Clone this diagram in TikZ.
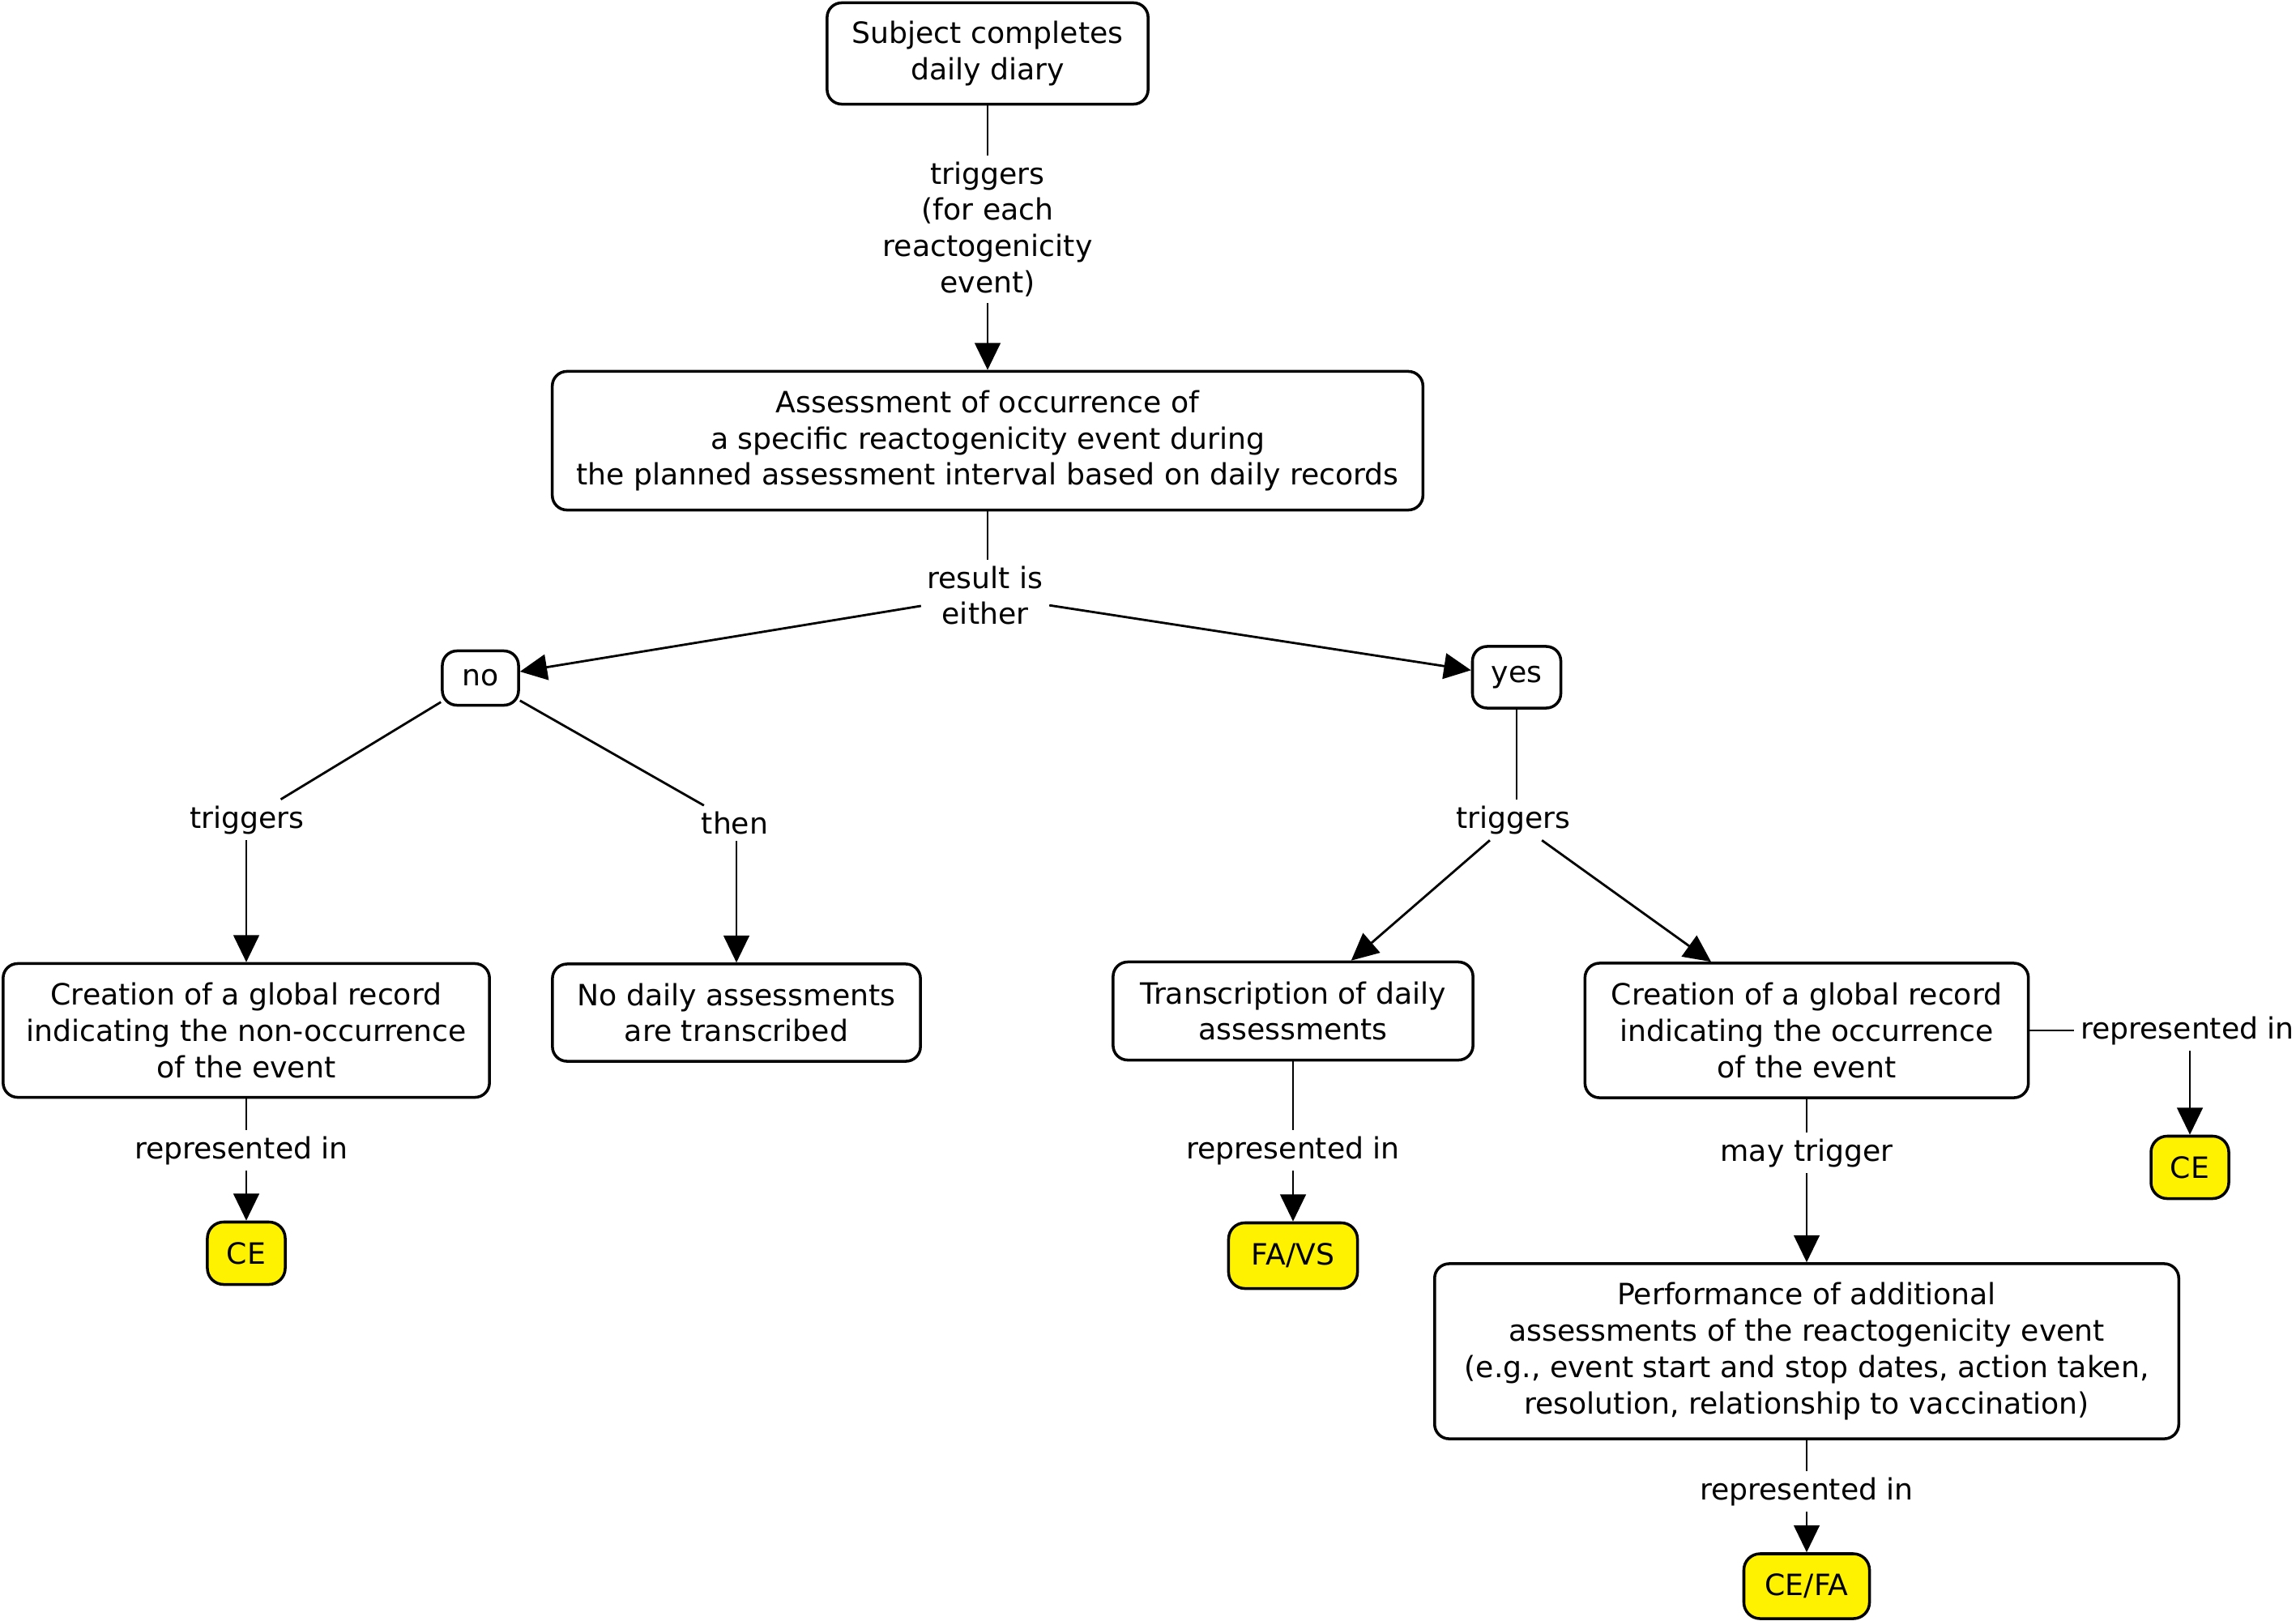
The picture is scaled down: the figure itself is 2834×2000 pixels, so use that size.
\documentclass[tikz,border=0pt]{standalone}
\usepackage{fontspec}
\setmainfont{DejaVu Sans}
\usetikzlibrary{arrows.meta}
\begin{document}
\begin{tikzpicture}[x=0.01cm,y=-0.01cm,
  every node/.style={font=\fontsize{10.3pt}{12.75pt}\selectfont, align=center},
  box/.style={draw, line width=1pt, rounded corners=0.18cm, inner sep=0pt},
  tag/.style={draw, line width=1pt, rounded corners=0.2cm, fill=yellow, inner sep=0pt},
  lbl/.style={inner sep=2pt},
  conn/.style={line width=0.8pt},
  arr/.style={conn, -{Triangle[length=9.5pt,width=9pt]}}
]
\useasboundingbox (0,0) rectangle (2834,2000);

\node[box, minimum width=3.96cm, minimum height=1.25cm] (diary) at (1219,66) {Subject completes\\daily diary};
\node[lbl] (trig1) at (1219,283) {triggers\\(for each\\reactogenicity\\event)};
\node[box, minimum width=10.74cm, minimum height=1.71cm] (assess) at (1219,544) {Assessment of occurrence of\\a specific reactogenicity event during\\the planned assessment interval based on daily records};
\node[lbl] (either) at (1216,735) {result is\\either};
\node[box, minimum width=0.94cm, minimum height=0.67cm] (no) at (593,837) {no};
\node[box, minimum width=1.09cm, minimum height=0.76cm] (yes) at (1872,836) {yes};
\node[lbl] (trigno) at (305,1012) {triggers};
\node[lbl] (then) at (907,1016) {then};
\node[box, minimum width=6.0cm, minimum height=1.65cm] (nonocc) at (304,1272) {Creation of a global record\\indicating the non-occurrence\\of the event};
\node[box, minimum width=4.54cm, minimum height=1.2cm] (nodaily) at (909,1250) {No daily assessments\\are transcribed};
\node[lbl] (rep1) at (298,1420) {represented in};
\node[tag, minimum width=0.96cm, minimum height=0.77cm] (ce1) at (304,1547) {CE};
\node[lbl] (trigyes) at (1868,1012) {triggers};
\node[box, minimum width=4.44cm, minimum height=1.21cm] (transc) at (1596,1248) {Transcription of daily\\assessments};
\node[box, minimum width=5.47cm, minimum height=1.66cm] (occ) at (2230,1272) {Creation of a global record\\indicating the occurrence\\of the event};
\node[lbl] (rep2) at (1596,1420) {represented in};
\node[tag, minimum width=1.59cm, minimum height=0.81cm] (favs) at (1596,1550) {FA/VS};
\node[lbl] (rep3) at (2700,1272) {represented in};
\node[tag, minimum width=0.96cm, minimum height=0.77cm] (ce2) at (2703,1441) {CE};
\node[lbl] (may) at (2230,1423) {may trigger};
\node[box, minimum width=9.18cm, minimum height=2.16cm] (perf) at (2230,1668) {Performance of additional\\assessments of the reactogenicity event\\(e.g., event start and stop dates, action taken,\\resolution, relationship to vaccination)};
\node[lbl] (rep4) at (2230,1841) {represented in};
\node[tag, minimum width=1.55cm, minimum height=0.80cm] (cefa) at (2230,1958) {CE/FA};

\draw[conn] (diary) -- (trig1);
\draw[arr] (trig1) -- (assess);
\draw[conn] (assess) -- (assess.south |- either.north);
\draw[arr] (either) -- (no);
\draw[arr] (either) -- (yes);
\draw[conn] (no) -- (trigno);
\draw[arr] (trigno.south -| nonocc.north) -- (nonocc.north);
\draw[conn] (no) -- (then);
\draw[arr] (then.south -| nodaily.north) -- (nodaily.north);
\draw[conn] (nonocc.south) -- (nonocc.south |- rep1.north);
\draw[arr] (rep1.south -| ce1.north) -- (ce1.north);
\draw[conn] (yes.south) -- (yes.south |- trigyes.north);
\draw[arr] (trigyes) -- (transc);
\draw[arr] (trigyes) -- (occ);
\draw[conn] (transc.south) -- (rep2.north);
\draw[arr] (rep2) -- (favs);
\draw[conn] (occ.east) -- (rep3.west);
\draw[arr] (rep3.south -| ce2.north) -- (ce2.north);
\draw[conn] (occ.south) -- (may.north);
\draw[arr] (may) -- (perf);
\draw[conn] (perf.south) -- (rep4.north);
\draw[arr] (rep4) -- (cefa);
\end{tikzpicture}
\end{document}
